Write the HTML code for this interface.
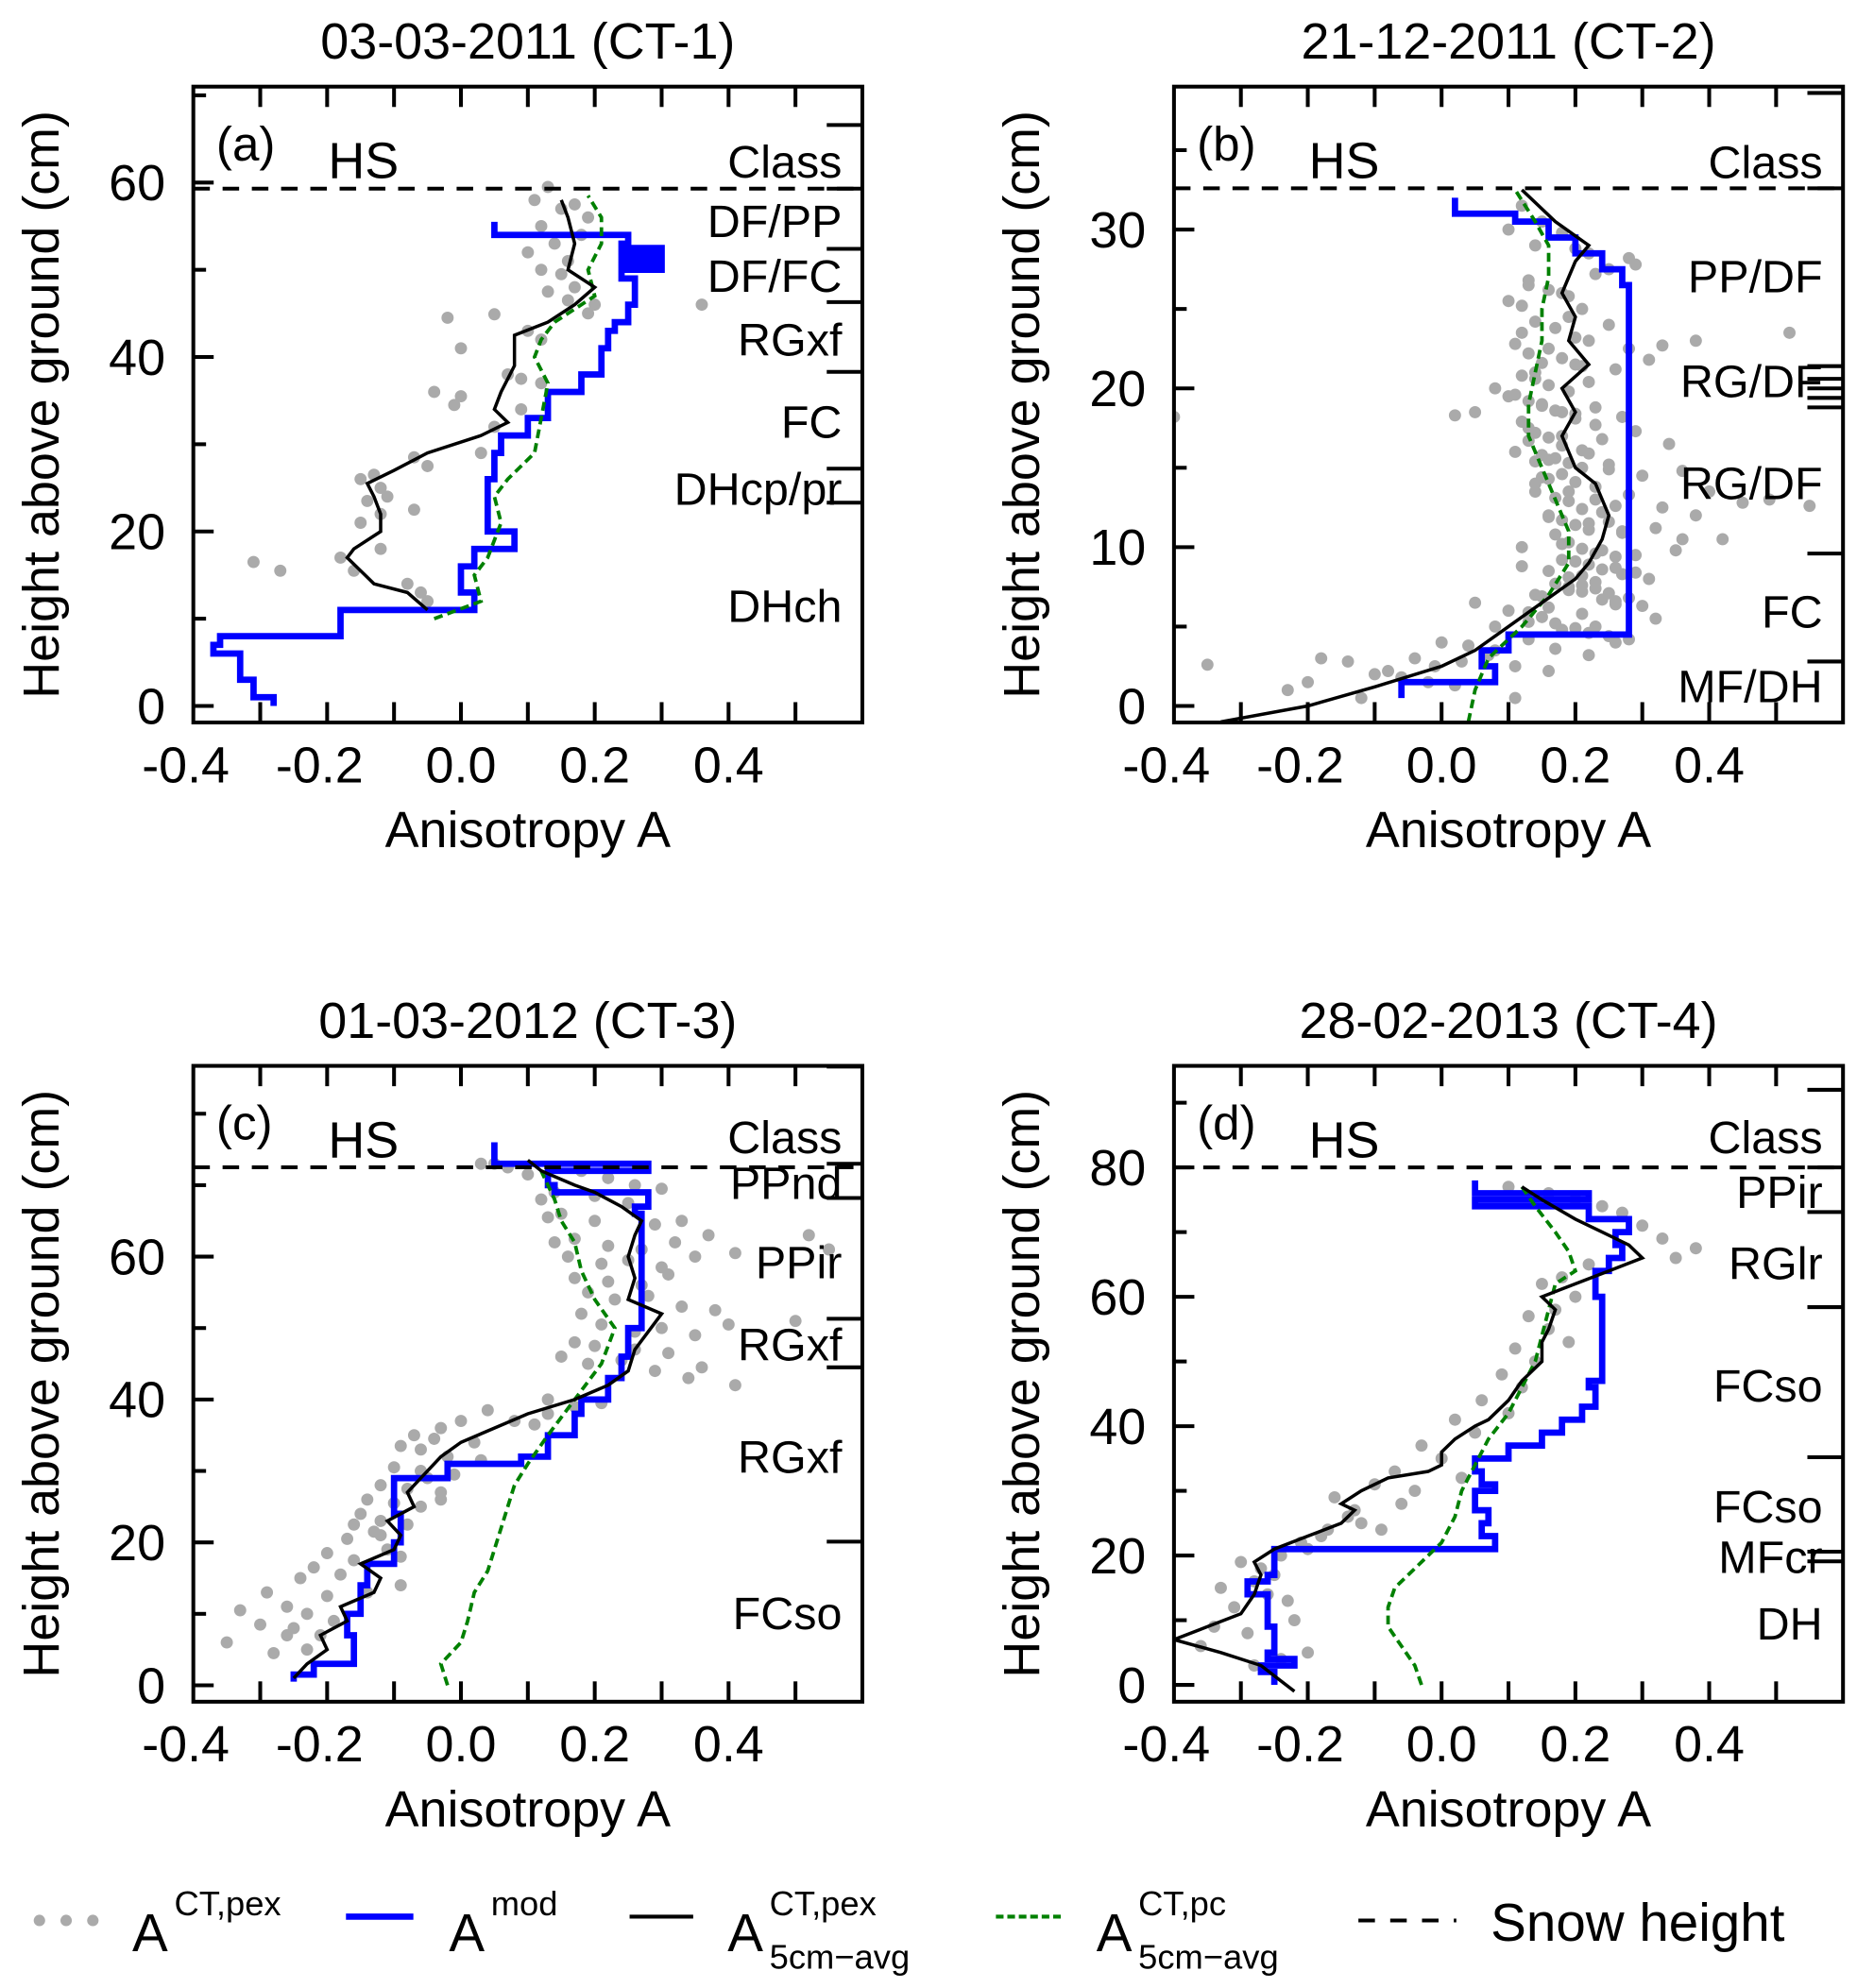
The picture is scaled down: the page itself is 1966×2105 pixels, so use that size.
<!DOCTYPE html>
<html><head><meta charset="utf-8">
<style>
html,body{margin:0;padding:0;background:#fff;}
svg{display:block;font-family:"Liberation Sans",Arial,sans-serif;}
</style></head>
<body>
<svg id="fig" width="1966" height="2105" viewBox="0 0 1460 1563" xmlns="http://www.w3.org/2000/svg">
<g id="panels"></g>
<g id="legend">
  <g>
    <circle cx="31" cy="1510" r="4.5" fill="#aaa"/><circle cx="52" cy="1510" r="4.5" fill="#aaa"/><circle cx="73" cy="1510" r="4.5" fill="#aaa"/>
    <text x="104" y="1534" font-size="42">A</text><text x="137" y="1506" font-size="27">CT,pex</text>
  </g>
  <g>
    <line x1="272" y1="1507" x2="325" y2="1507" stroke="#0000ff" stroke-width="5"/>
    <text x="353" y="1534" font-size="42">A</text><text x="386" y="1506" font-size="27">mod</text>
  </g>
  <g>
    <line x1="495" y1="1507" x2="545" y2="1507" stroke="#000" stroke-width="3"/>
    <text x="572" y="1534" font-size="42">A</text><text x="605" y="1506" font-size="27">CT,pex</text><text x="605" y="1548" font-size="27">5cm−avg</text>
  </g>
  <g>
    <line x1="783" y1="1507" x2="835" y2="1507" stroke="#008000" stroke-width="3" stroke-dasharray="6,3"/>
    <text x="862" y="1534" font-size="42">A</text><text x="895" y="1506" font-size="27">CT,pc</text><text x="895" y="1548" font-size="27">5cm−avg</text>
  </g>
  <g>
    <line x1="1068" y1="1510" x2="1145" y2="1510" stroke="#000" stroke-width="3" stroke-dasharray="13,12"/>
    <text x="1172" y="1526" font-size="42">Snow height</text>
  </g>
</g>
</svg>
<script>
// ---------- DATA ----------
const panelTitles = ["03-03-2011 (CT-1)", "21-12-2011 (CT-2)", "01-03-2012 (CT-3)", "28-02-2013 (CT-4)"];
const panelLetters = ["(a)", "(b)", "(c)", "(d)"];
const xTickValues = [-0.4, -0.2, 0.0, 0.2, 0.4];
const xTickLabels = ["-0.4", "-0.2", "0.0", "0.2", "0.4"];
const yTicksA = [0, 20, 40, 60];
const yTicksB = [0, 10, 20, 30];
const yTicksC = [0, 20, 40, 60];
const yTicksD = [0, 20, 40, 60, 80];
const yMinA = -1.9, yMaxA = 71;
const yMinB = -1.04, yMaxB = 39;
const yMinC = -2.3, yMaxC = 86.7;
const yMinD = -2.6, yMaxD = 95.7;
const snowHeights = [59.3, 32.6, 72.5, 80];

// class labels & boundaries
const classNamesA = ["Class", "DF/PP", "DF/FC", "RGxf", "FC", "DHcp/pr", "DHch"];
const classHeightsA = [62.3, 55.5, 49.2, 41.9, 32.5, 24.8, 11.4];
const classBoundsA = [66.6, 59.3, 52.4, 46.3, 38.3, 27.2, 23.3];
const classNamesB = ["Class", "PP/DF", "RG/DF", "RG/DF", "FC", "MF/DH"];
const classHeightsB = [34.2, 27.0, 20.4, 14.0, 5.9, 1.2];
const classBoundsB = [38.6, 32.6, 21.4, 20.6, 20.0, 19.4, 18.8, 9.6, 2.8];
const classNamesC = ["Class", "PPnd", "PPir", "RGxf", "RGxf", "FCso"];
const classHeightsC = [76.6, 70.2, 59.1, 47.6, 31.9, 10.0];
const classBoundsC = [86.6, 73.0, 68.2, 51.3, 44.5, 20.1];
const classNamesD = ["Class", "PPir", "RGlr", "FCso", "FCso", "MFcr", "DH"];
const classHeightsD = [84.6, 76.1, 65.1, 46.2, 27.5, 19.7, 9.4];
const classBoundsD = [92.0, 80.0, 73.1, 58.4, 35.2, 20.6, 19.1];

// A_mod steps: bounds (heights) and values
const modHA = [0, 1, 3, 6, 7, 8, 11, 13, 14, 16, 18, 20, 26, 29, 31, 33, 36, 38, 41, 43, 44, 46, 49, 50, 50.5, 51, 51.5, 52, 52.5, 53, 54, 55.5];
const modAA = [-0.28, -0.31, -0.33, -0.37, -0.36, -0.18, 0.02, 0.0, 0.0, 0.02, 0.08, 0.04, 0.05, 0.06, 0.10, 0.13, 0.18, 0.21, 0.22, 0.23, 0.25, 0.26, 0.24, 0.30, 0.24, 0.30, 0.24, 0.30, 0.24, 0.25, 0.05];
const modHB = [0.5, 1.5, 2.5, 3.5, 4.5, 26.5, 27.5, 28.5, 29.5, 30.5, 31, 32];
const modAB = [-0.06, 0.08, 0.06, 0.10, 0.28, 0.27, 0.24, 0.20, 0.16, 0.11, 0.02];
const modHC = [0.5, 1.5, 3, 7, 10, 14, 17, 20, 24, 28, 29, 31, 32, 35, 38, 40, 43, 46, 50, 66, 67, 69, 70, 72, 73, 74, 76];
const modAC = [-0.25, -0.22, -0.16, -0.17, -0.15, -0.14, -0.10, -0.09, -0.10, -0.10, -0.02, 0.09, 0.13, 0.17, 0.18, 0.22, 0.24, 0.25, 0.27, 0.26, 0.28, 0.14, 0.13, 0.28, 0.05, 0.05];
const modHD = [0, 2, 3, 4, 5, 9, 14, 16, 17, 21, 23, 25, 27, 30, 31, 33, 35, 37, 39, 41, 43, 46, 47, 60, 64, 66, 68, 70, 72, 74, 75, 76, 77, 78];
const modAD = [-0.25, -0.27, -0.22, -0.26, -0.25, -0.26, -0.29, -0.26, -0.25, 0.08, 0.06, 0.07, 0.05, 0.08, 0.06, 0.05, 0.10, 0.15, 0.18, 0.21, 0.23, 0.22, 0.24, 0.23, 0.25, 0.27, 0.26, 0.28, 0.22, 0.05, 0.22, 0.05, 0.05];

// 5 cm running averages (pex)
const avgAA = [-0.05, -0.08, -0.13, -0.17, -0.16, -0.12, -0.12, -0.13, -0.14, -0.10, -0.05, 0.03, 0.07, 0.05, 0.06, 0.08, 0.08, 0.08, 0.13, 0.17, 0.20, 0.16, 0.17, 0.16, 0.15];
const avgHA = [11, 13, 14, 17, 18, 20, 22, 24, 25.5, 27, 29, 31, 32.5, 34, 36, 39, 41, 42.5, 44, 46, 48, 50, 53, 56, 58];
const avgAB = [-0.33, -0.2, -0.1, 0.0, 0.05, 0.1, 0.15, 0.2, 0.22, 0.24, 0.25, 0.23, 0.2, 0.18, 0.2, 0.18, 0.22, 0.19, 0.2, 0.18, 0.2, 0.22, 0.17, 0.12];
const avgHB = [-1, 0, 1.2, 2.5, 3.5, 5, 6.5, 8, 9, 10.5, 12, 14, 15, 17, 18.5, 20, 21.5, 23, 24.5, 26, 28, 29, 30.5, 32.5];
const avgAC = [-0.25, -0.23, -0.2, -0.21, -0.17, -0.18, -0.13, -0.12, -0.15, -0.1, -0.09, -0.11, -0.07, -0.08, -0.06, -0.03, 0.0, 0.05, 0.1, 0.17, 0.22, 0.25, 0.26, 0.3, 0.25, 0.26, 0.25, 0.26, 0.27, 0.24, 0.2, 0.17, 0.12, 0.1];
const avgHC = [1, 3, 5, 7, 9, 11, 13, 15, 17, 19, 21, 23, 25, 27, 29, 32, 34, 36, 38, 40, 42, 44, 47, 52, 54, 57, 60, 63, 65, 67, 69, 70, 72, 73.5];
const avgAD = [-0.22, -0.27, -0.33, -0.4, -0.35, -0.3, -0.28, -0.27, -0.28, -0.25, -0.2, -0.15, -0.13, -0.15, -0.12, -0.08, -0.02, 0.0, 0.0, 0.02, 0.05, 0.07, 0.1, 0.12, 0.15, 0.15, 0.16, 0.17, 0.15, 0.2, 0.25, 0.3, 0.28, 0.24, 0.2, 0.15, 0.12];
const avgHD = [-1, 3, 5, 7, 9, 11, 14, 17, 19, 21, 23, 25, 27, 28, 30, 32, 33, 34, 36, 38, 40, 41, 44, 47, 50, 53, 55, 58, 60, 62, 64, 66, 68, 70, 72, 75, 77];

// 5 cm running averages (pc)
const pcAA = [-0.04, 0.03, 0.02, 0.04, 0.06, 0.05, 0.07, 0.11, 0.12, 0.13, 0.11, 0.12, 0.14, 0.20, 0.19, 0.21, 0.21, 0.19];
const pcHA = [10, 12, 15, 17, 21, 24, 26, 29, 33, 37, 40, 42, 44, 47, 50, 53, 56, 58.5];
const pcAB = [0.04, 0.05, 0.07, 0.12, 0.16, 0.19, 0.19, 0.17, 0.15, 0.13, 0.13, 0.14, 0.15, 0.15, 0.16, 0.16, 0.14, 0.11];
const pcHB = [-1, 1, 3, 5, 7, 9, 11, 13, 15, 17, 19, 21, 23, 25, 27, 29, 30.5, 32.5];
const pcAC = [-0.02, -0.03, 0.0, 0.01, 0.02, 0.04, 0.05, 0.06, 0.07, 0.08, 0.1, 0.13, 0.17, 0.21, 0.23, 0.2, 0.18, 0.17, 0.15, 0.14, 0.13, 0.12];
const pcHC = [0, 3, 6, 9, 13, 16, 19, 22, 25, 28, 31, 35, 40, 45, 50, 54, 58, 62, 65, 68, 70, 72];
const pcAD = [-0.03, -0.04, -0.06, -0.08, -0.08, -0.07, -0.04, 0.0, 0.02, 0.03, 0.05, 0.07, 0.1, 0.12, 0.14, 0.15, 0.16, 0.17, 0.2, 0.19, 0.17, 0.14, 0.12];
const pcHD = [0, 3, 6, 9, 12, 15, 18, 22, 26, 30, 34, 38, 42, 46, 50, 54, 58, 62, 64, 67, 70, 74, 77];

// scatter points A_CT,pex
const ptAA = [0.13,0.15,0.11,0.17,0.19,0.12,0.14,0.10,0.18,0.16,0.12,0.15,0.13,0.17,0.20,0.36,0.16,0.19,-0.02,0.05,0.10,0.12,0.00,0.07,0.09,0.12,-0.04,0.00,-0.01,0.09,0.05,0.03,-0.07,-0.05,-0.15,-0.13,-0.12,-0.14,-0.11,-0.12,-0.15,-0.07,-0.12,-0.18,-0.16,-0.31,-0.27,-0.08,-0.06,-0.05];
const ptHA = [59.5,57,58,57.5,56,55,53,52,54,51,50,49.5,47.5,48,46,46,46.5,45,44.5,44.9,43,42,41,38,37.5,37,36,35.5,34.5,34,32,29,28.5,27.5,26,26.5,25,23.5,24,22,21,22.5,18,17,15.5,16.5,15.5,14,13,12];
const ptAB = [0.12,0.15,0.18,0.10,0.14,0.22,0.20,0.28,0.25,0.23,0.29,0.10,0.13,0.18,0.19,0.21,0.25,0.12,0.16,0.22,0.28,0.33,0.31,0.26,0.20,0.14,0.08,0.10,0.15,0.18,0.23,0.27,0.05,0.02,0.13,0.18,0.24,0.29,0.34,0.11,0.16,0.21,0.25,0.30,0.36,0.40,0.14,0.19,0.23,0.28,0.33,0.38,0.45,0.49,0.55,0.16,0.22,0.27,0.32,0.36,0.12,0.18,0.24,0.29,0.35,0.42,0.12,0.16,0.21,0.26,0.31,0.14,0.19,0.23,0.28,0.05,0.10,0.16,0.21,0.26,0.32,0.08,0.13,0.18,0.23,0.28,0.00,0.04,0.08,0.13,0.17,0.22,0.26,-0.04,-0.01,0.03,0.07,0.11,0.16,-0.10,-0.06,-0.02,0.02,-0.23,-0.18,-0.14,-0.08,-0.20,-0.35,-0.12,-0.40,0.20,0.52,0.38,0.14,
 0.11,0.13,0.16,0.19,0.12,0.14,0.17,0.20,0.11,0.13,0.15,0.18,0.21,0.12,0.14,0.16,0.19,0.22,0.11,0.13,0.15,0.17,0.20,0.23,0.12,0.14,0.16,0.18,0.21,0.13,0.15,0.17,0.19,0.22,0.25,0.14,0.16,0.18,0.20,0.23,0.15,0.17,0.19,0.21,0.24,0.26,0.16,0.18,0.20,0.22,0.25,0.27,0.17,0.19,0.21,0.23,0.26,0.18,0.20,0.22,0.24,0.27,0.29,0.19,0.21,0.23,0.25,0.15,0.17,0.19,0.21,0.24,0.26,0.30,0.13,0.15,0.17,0.20,0.22,0.25];
const ptHB = [31.5,30.5,29.8,30,29,28.5,28.8,28.2,27.5,27.2,27.8,25.5,26.5,26,24.5,25,24,23.5,22.5,23,22.5,22.7,21.8,21.2,21.5,21,20,19.5,19,18.5,18.8,18.2,18.5,18.3,17.5,17,16.8,17.3,16.5,16,15.5,15,15.2,14.5,14.8,13.5,14,13.5,13,13.3,12.5,12,12.8,13,12.6,12,11.5,11,11.2,10.5,10,10.2,9.8,9.5,9.8,10.5,8.8,8.5,8.2,8.7,8,7,7.3,7.8,6.8,6.5,6,6.2,5.8,6.4,5.5,5,5.3,4.8,5,4.2,4,3.8,3.5,4.2,3.6,3.2,4,3,2.5,2.8,3.2,2.5,2.2,2,1.8,1.5,1.3,1,3,2.8,2.2,1.5,2.6,0.5,18.2,18.4,23.5,23,13.5,0.5,
 26.8,26.2,25.8,25.2,24.2,23.8,23.2,22.8,22.2,21.6,21.9,21.4,20.8,20.6,20.2,19.8,20.4,19.6,19.2,18.9,18.6,18.1,17.7,17.9,17.2,16.9,16.4,16.1,16.7,15.8,15.6,15.3,15.9,14.9,15.4,14.3,14.6,14.1,13.8,14.4,13.1,12.9,12.4,12.2,12.6,11.9,11.7,11.4,11.1,11.6,10.9,10.8,10.3,9.9,9.6,9.4,9.2,9.1,8.9,8.6,8.3,8.4,8.1,7.6,7.4,7.1,6.9,7.7,7.5,7.2,6.7,6.6,6.3,5.9,5.6,5.2,4.9,4.6,4.4,4.7];
const ptAC = [0.03,0.07,0.10,0.05,0.18,0.22,0.26,0.30,0.14,0.12,0.20,0.25,0.15,0.13,0.20,0.29,0.33,0.37,0.14,0.17,0.22,0.27,0.32,0.41,0.16,0.21,0.25,0.30,0.35,0.17,0.22,0.27,0.31,0.52,0.55,0.19,0.23,0.28,0.33,0.38,0.50,0.18,0.21,0.26,0.30,0.35,0.40,0.17,0.20,0.26,0.31,0.36,0.15,0.19,0.24,0.29,0.34,0.41,0.13,0.17,0.21,0.13,0.04,0.08,0.11,0.00,-0.03,-0.07,-0.04,0.02,-0.09,-0.06,-0.02,0.03,-0.10,-0.06,-0.01,-0.12,-0.08,-0.03,-0.05,-0.14,-0.10,-0.06,-0.15,-0.12,-0.08,-0.03,-0.16,-0.12,-0.17,-0.13,-0.09,-0.20,-0.16,-0.11,-0.22,-0.18,-0.14,-0.09,-0.24,-0.20,-0.29,-0.26,-0.23,-0.19,-0.33,-0.30,-0.26,-0.23,-0.35,-0.28,-0.25,-0.21];
const ptHC = [73,72.5,71.5,73,72,71,70,69.5,69,68,68.5,67.5,66,65.5,65,64.5,65,63,62,62.5,61.5,61,62,60.5,60,59,59.5,58.5,60,57,56.5,56,57.5,63,61,55,54,54.5,53,52.5,51,52,50.5,49.5,50,49,50.5,48,47.5,47,46.5,44.5,46,45,45.5,44,43,42,40,39,39.5,38,38.5,37,36.5,37,36,35,34.5,34,33.5,33,32,31.5,30.5,30,29.5,28,27.5,26,29,26,25.5,25,24,23,22.5,27,22.5,21,20.5,21.5,18,18.5,17.5,19,16.5,15.5,13,14,15,12.5,13,11,10,9,10.5,8.5,7,5,6,4.5,8,7,6.5,5.5];
const ptAD = [0.10,0.16,0.20,0.24,0.30,0.33,0.35,0.38,0.27,0.22,0.18,0.15,0.20,0.17,0.13,0.16,0.19,0.11,0.14,0.09,0.12,0.06,0.10,0.02,0.05,-0.03,0.00,0.03,-0.07,-0.04,-0.10,-0.06,-0.13,-0.16,-0.12,-0.09,-0.18,-0.14,-0.21,-0.17,-0.24,-0.20,-0.27,-0.30,-0.25,-0.33,-0.28,-0.23,-0.31,-0.26,-0.22,-0.34,-0.29,-0.36,-0.24,-0.28,-0.20];
const ptHD = [77,76,75,74,71,69,66,67.5,73,65,63,62,60,58,57,55,53,52,50,48,46,44,42,41,39,37,35,32,33,30,31,28,27,29,25,24,23,26,22,24,20,21,18,19,17,15,16,13,12,14,10,9,8,6,4,3,5];

// ---------- RENDER ----------
const NS = "http://www.w3.org/2000/svg";
const panelsG = document.getElementById("panels");
function mk(tag, attrs, parent) {
  const e = document.createElementNS(NS, tag);
  for (const k in attrs) e.setAttribute(k, attrs[k]);
  parent.appendChild(e);
  return e;
}
const boxW = 526, boxH = 500;
const panels = [
  {x0:152, y0:68, yMin:yMinA, yMax:yMaxA, yTicks:yTicksA, minor:10, cn:classNamesA, ch:classHeightsA, cb:classBoundsA, mH:modHA, mA:modAA, aA:avgAA, aH:avgHA, pA:pcAA, pH:pcHA, sA:ptAA, sH:ptHA},
  {x0:923, y0:68, yMin:yMinB, yMax:yMaxB, yTicks:yTicksB, minor:5, cn:classNamesB, ch:classHeightsB, cb:classBoundsB, mH:modHB, mA:modAB, aA:avgAB, aH:avgHB, pA:pcAB, pH:pcHB, sA:ptAB, sH:ptHB},
  {x0:152, y0:838, yMin:yMinC, yMax:yMaxC, yTicks:yTicksC, minor:10, cn:classNamesC, ch:classHeightsC, cb:classBoundsC, mH:modHC, mA:modAC, aA:avgAC, aH:avgHC, pA:pcAC, pH:pcHC, sA:ptAC, sH:ptHC},
  {x0:923, y0:838, yMin:yMinD, yMax:yMaxD, yTicks:yTicksD, minor:10, cn:classNamesD, ch:classHeightsD, cb:classBoundsD, mH:modHD, mA:modAD, aA:avgAD, aH:avgHD, pA:pcAD, pH:pcHD, sA:ptAD, sH:ptHD}
];
panels.forEach((p, i) => {
  const g = mk("g", {}, panelsG);
  
  
  const X = a => p.x0 + (a + 0.4) / 1.0 * boxW;
  const Y = h => p.y0 + boxH - (h - p.yMin) / (p.yMax - p.yMin) * boxH;
  const clipId = "clip" + i;
  const cp = mk("clipPath", {id: clipId}, g);
  mk("rect", {x: p.x0, y: p.y0, width: boxW, height: boxH}, cp);

  const title = mk("text", {x: p.x0 + boxW / 2, y: p.y0 - 22, "font-size": 40, "text-anchor": "middle"}, g);
  title.textContent = panelTitles[i];
  
  

  const xt = mk("g", {stroke: "#000", "stroke-width": 3}, g);
  
  
  for (let k = 1; k < 10; k++) {
    const xv = -0.4 + k * 0.1;
    mk("line", {x1: X(xv), x2: X(xv), y1: p.y0 + boxH, y2: p.y0 + boxH - 16}, xt);
    mk("line", {x1: X(xv), x2: X(xv), y1: p.y0, y2: p.y0 + 16}, xt);
  }
  xTickValues.forEach((v, k) => {
    const t = mk("text", {x: X(v) - (v < 0 ? 6 : 0), y: p.y0 + boxH + 47, "font-size": 40, "text-anchor": "middle"}, g);
    t.textContent = xTickLabels[k];
    
    
  });
  for (let v = 0; v <= p.yMax; v += p.minor) {
    const major = p.yTicks.indexOf(v) >= 0;
    mk("line", {x1: p.x0, x2: p.x0 + (major ? 16 : 10), y1: Y(v), y2: Y(v)}, xt);
  }
  p.yTicks.forEach(v => {
    const t = mk("text", {x: p.x0 - 22, y: Y(v) + 14, "font-size": 40, "text-anchor": "end"}, g);
    t.textContent = String(v);
    
    
  });
  const xl = mk("text", {x: p.x0 + boxW / 2, y: p.y0 + boxH + 98, "font-size": 40, "text-anchor": "middle"}, g);
  xl.textContent = "Anisotropy A";
  
  
  const ylx = p.x0 - 106, yly = p.y0 + boxH / 2;
  const yl = mk("text", {x: ylx, y: yly, "font-size": 40, "text-anchor": "middle", transform: `rotate(-90 ${ylx} ${yly})`}, g);
  yl.textContent = "Height above ground (cm)";
  
  

  const plot = mk("g", {"clip-path": `url(#${clipId})`}, g);
  const sg = mk("g", {fill: "#aaa"}, plot);
  
  
  p.sA.forEach((a, k) => {
    const c = mk("circle", {cx: X(a), cy: Y(p.sH[k]), r: 4.8}, sg);
    
    
  });
  let d = "";
  p.mA.forEach((a, k) => {
    d += (k === 0 ? "M" : "L") + X(a) + "," + Y(p.mH[k]) + "L" + X(a) + "," + Y(p.mH[k + 1]);
  });
  const mod = mk("path", {d: d, fill: "none", stroke: "#0000ff", "stroke-width": 5}, plot);
  
  
  const pc = mk("polyline", {points: p.pA.map((a, k) => X(a) + "," + Y(p.pH[k])).join(" "), fill: "none", stroke: "#008000", "stroke-width": 2.8, "stroke-dasharray": "7,4"}, plot);
  
  
  const av = mk("polyline", {points: p.aA.map((a, k) => X(a) + "," + Y(p.aH[k])).join(" "), fill: "none", stroke: "#000", "stroke-width": 2.6}, plot);
  
  
  const hs = mk("line", {x1: p.x0, x2: p.x0 + boxW, y1: Y(snowHeights[i]), y2: Y(snowHeights[i]), stroke: "#000", "stroke-width": 3, "stroke-dasharray": "13,10"}, g);
  
  
  p.cb.forEach(h => {
    const l = mk("line", {x1: p.x0 + boxW - 28, x2: p.x0 + boxW, y1: Y(h), y2: Y(h), stroke: "#000", "stroke-width": 3}, g);
    
    
  });
  p.cn.forEach((n, k) => {
    const t = mk("text", {x: p.x0 + boxW - 16, y: Y(p.ch[k]) + 12, "font-size": 36, "text-anchor": "end"}, g);
    t.textContent = n;
    
    
  });
  const lt = mk("text", {x: p.x0 + 18, y: p.y0 + 58, "font-size": 38}, g);
  lt.textContent = panelLetters[i];
  
  
  const hst = mk("text", {x: p.x0 + 106, y: p.y0 + 72, "font-size": 40}, g);
  hst.textContent = "HS";
  
  
  const box = mk("rect", {x: p.x0, y: p.y0, width: boxW, height: boxH, fill: "none", stroke: "#000", "stroke-width": 3}, g);
  
  
});
</script>
</body></html>
